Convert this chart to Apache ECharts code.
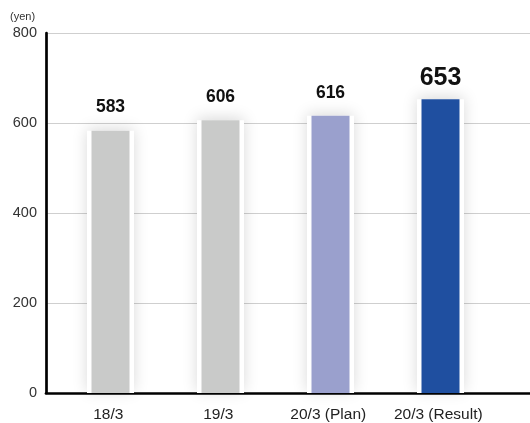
<!DOCTYPE html>
<html>
<head>
<meta charset="utf-8">
<script src="https://cdn.jsdelivr.net/npm/echarts@6/dist/echarts.min.js"></script>
<style>
  html, body { margin: 0; padding: 0; background: #fff; }
  #chart { width: 530px; height: 423px; }
</style>
</head>
<body>
<div id="chart"></div>
<script>
// Dividend per share, yen
const categories = ['18/3', '19/3', '20/3 (Plan)', '20/3 (Result)'];
const values = [583, 606, 616, 653];
const barColors = ['#c9cac9', '#c9cac9', '#9aa0cd', '#1f4fa0'];
const yTicks = [0, 200, 400, 600, 800];

const FONT = '"Liberation Sans", Arial, Helvetica, sans-serif';
const yMin = yTicks[0], yMax = yTicks[yTicks.length - 1];
const yStep = yTicks[1] - yTicks[0];
const last = values.length - 1;

// frame is wider than the coloured bar; the gap centres the two
const FRAME_W = 47, BAR_W = 38;
const gapPct = ((FRAME_W - BAR_W) / 2 / FRAME_W - 1) * 100;

const chart = echarts.init(document.getElementById('chart'));

chart.setOption({
  animation: false,
  textStyle: { fontFamily: FONT },
  graphic: [{
    type: 'text', left: 10, top: 11,
    style: { text: '(yen)', fontSize: 11, fill: '#333', fontFamily: FONT }
  }],
  grid: [
    { left: 46, right: 0, top: 33, bottom: 30 },
    { left: 53.25, width: 440, top: 33, bottom: 30 }
  ],
  xAxis: [
    {
      gridIndex: 0, type: 'category', data: [''],
      axisLine: { lineStyle: { color: '#000', width: 2.7 } },
      axisTick: { show: false }, axisLabel: { show: false }
    },
    {
      gridIndex: 1, type: 'category', data: categories,
      axisLine: { show: false }, axisTick: { show: false },
      axisLabel: { color: '#222', fontSize: 15.5, margin: 14, interval: 0, fontFamily: FONT }
    }
  ],
  yAxis: [
    {
      gridIndex: 0, type: 'value', min: yMin, max: yMax, interval: yStep,
      axisLine: { show: true, lineStyle: { color: '#000', width: 2.7 } },
      axisTick: { show: false },
      axisLabel: { color: '#333', fontSize: 14.5, margin: 9, fontFamily: FONT },
      splitLine: { lineStyle: { color: '#cfcfcf', width: 1 } }
    },
    {
      gridIndex: 1, type: 'value', min: yMin, max: yMax, interval: yStep, show: false
    }
  ],
  series: [
    {
      // white frame with soft shadow behind each bar
      type: 'bar', xAxisIndex: 1, yAxisIndex: 1,
      barWidth: FRAME_W, barGap: gapPct + '%', silent: true,
      data: values,
      itemStyle: {
        color: '#fff',
        shadowBlur: 14, shadowOffsetY: -2, shadowColor: 'rgba(0,0,0,0.15)'
      }
    },
    {
      type: 'bar', xAxisIndex: 1, yAxisIndex: 1,
      barWidth: BAR_W,
      data: values.map((v, i) => ({
        value: v,
        itemStyle: { color: barColors[i] },
        label: i === last ? { fontSize: 25, distance: 9 } : {}
      })),
      label: {
        show: true, position: 'top', distance: 14,
        color: '#111', fontWeight: 'bold', fontSize: 17.5, fontFamily: FONT
      }
    }
  ]
});
</script>
</body>
</html>
